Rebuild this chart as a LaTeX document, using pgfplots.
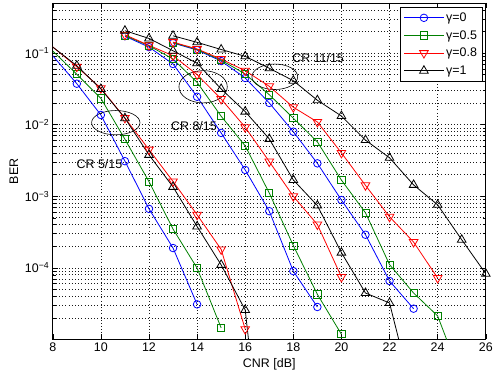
\documentclass[border=0pt]{standalone}
\usepackage{pgfplots}
\pgfplotsset{compat=1.18}
\usepackage{fontspec}
\setmainfont{Liberation Sans}
\definecolor{mgreen}{rgb}{0,0.5,0}
\newcommand\ff{\fontsize{12.5}{15}\selectfont}
\pgfplotsset{
 sb/.style={blue, line width=0.8pt, mark=o, mark size=3.8pt, mark options={solid}},
 sg/.style={mgreen, line width=0.8pt, mark=square, mark size=3.6pt, mark options={solid}},
 sr/.style={red, line width=0.8pt, mark=triangle, mark size=5pt, mark options={solid, rotate=180}},
 sk/.style={black, line width=0.8pt, mark=triangle, mark size=5pt, mark options={solid}},
}
\begin{document}
\begin{tikzpicture}
\path (-53pt,-38pt) rectangle (443pt,341pt);
\begin{axis}[
 at={(0,0)}, anchor=south west, scale only axis,
 width=435pt, height=338pt,
 xmin=8, xmax=26, ymode=log, ymin=1e-5, ymax=0.5,
 xtick={8,10,...,26},
 minor xtick={},
 ytick={1e-4,1e-3,1e-2,1e-1},
 yticklabels={10\textsuperscript{−4},10\textsuperscript{−3},10\textsuperscript{−2},10\textsuperscript{−1}},
 minor ytick={2e-5,3e-5,4e-5,5e-5,6e-5,7e-5,8e-5,9e-5,2e-4,3e-4,4e-4,5e-4,6e-4,7e-4,8e-4,9e-4,2e-3,3e-3,4e-3,5e-3,6e-3,7e-3,8e-3,9e-3,2e-2,3e-2,4e-2,5e-2,6e-2,7e-2,8e-2,9e-2,0.2,0.3,0.4,0.5},
 grid=both,
 major grid style={black!90, line width=0.6pt, dash pattern=on 0.6pt off 2.6pt},
 minor grid style={black!90, line width=0.6pt, dash pattern=on 0.6pt off 2.6pt},
 major tick length=5pt, minor tick length=3pt,
 axis line style={line width=0.7pt},
 tick style={line width=0.5pt, black},
 /pgf/number format/assume math mode=true,
 tick label style={font=\ff},
 label style={font=\ff},
 xlabel={CNR [dB]}, ylabel={BER},
 legend style={at={(1,1)}, anchor=north east, xshift=-3pt, yshift=-4pt, draw=black, fill=white, font=\ff, line width=0.6pt, row sep=3.5pt, inner sep=3.5pt},
 legend cell align=left,
 legend image code/.code={\draw[mark repeat=2,mark phase=2,#1] plot coordinates {(0pt,0pt) (20pt,0pt) (40pt,0pt)};},
]
% CR 5/15
\addplot[sb] coordinates {(7,0.225)(9,0.0373)(10,0.01365)(11,0.00309)(12,6.67e-4)(13,1.89e-4)(14,3.09e-5)};
\addlegendentry{γ=0}
\addplot[sg] coordinates {(7,0.225)(9,0.0505)(10,0.0233)(11,0.00625)(12,0.0016)(13,3.48e-4)(14,9.93e-5)(15,1.45e-5)};
\addlegendentry{γ=0.5}
\addplot[sr] coordinates {(7,0.229)(9,0.0644)(10,0.0322)(11,0.0124)(12,0.00448)(13,0.00161)(14,5.51e-4)(15,1.81e-4)(16,1.39e-5)};
\addlegendentry{γ=0.8}
\addplot[sk] coordinates {(7,0.221)(9,0.0665)(10,0.0315)(11,0.0123)(12,0.00378)(13,0.00135)(14,3.78e-4)(15,1.10e-4)(16,2.58e-5)(17,2.5e-8)};
\addlegendentry{γ=1}
% CR 8/15
\addplot[sb, forget plot] coordinates {(11,0.172)(12,0.121)(13,0.0703)(14,0.0245)(15,0.00766)(16,0.00233)(17,6.19e-4)(18,9.0e-5)(19,2.84e-5)};
\addplot[sg, forget plot] coordinates {(11,0.175)(12,0.1265)(13,0.0824)(14,0.039)(15,0.0131)(16,0.00505)(17,0.00111)(18,2.05e-4)(19,4.26e-5)(20,1.18e-5)};
\addplot[sr, forget plot] coordinates {(11,0.18)(12,0.128)(13,0.0917)(14,0.05)(15,0.0228)(16,0.0092)(17,0.00305)(18,0.001)(19,4.03e-4)(20,7.45e-5)};
\addplot[sk, forget plot] coordinates {(11,0.205)(12,0.16)(13,0.1076)(14,0.072)(15,0.0315)(16,0.0152)(17,0.00632)(18,0.00169)(19,7.41e-4)(20,1.63e-4)(21,4.45e-5)(22,3.23e-5)(23,1.5e-6)};
% CR 11/15
\addplot[sb, forget plot] coordinates {(13,0.138)(14,0.110)(15,0.0773)(16,0.0448)(17,0.0201)(18,0.00798)(19,0.00288)(20,8.85e-4)(21,2.90e-4)(22,6.55e-5)(23,2.69e-5)};
\addplot[sg, forget plot] coordinates {(13,0.14)(14,0.112)(15,0.0798)(16,0.0509)(17,0.0262)(18,0.0123)(19,0.00574)(20,0.00168)(21,5.87e-4)(22,1.11e-4)(23,4.45e-5)(24,2.13e-5)(25,2.8e-6)};
\addplot[sr, forget plot] coordinates {(13,0.142)(14,0.114)(15,0.0824)(16,0.0566)(17,0.0343)(18,0.0175)(19,0.0109)(20,0.00403)(21,0.00142)(22,5.16e-4)(23,2.29e-4)(24,7.21e-5)};
\addplot[sk, forget plot] coordinates {(13,0.174)(14,0.141)(15,0.112)(16,0.090)(17,0.0612)(18,0.0411)(19,0.0219)(20,0.0132)(21,0.00608)(22,0.00344)(23,0.00144)(24,7.59e-4)(25,2.47e-4)(26,8.28e-5)};
% annotations
\draw[line width=0.6pt] (axis cs:10.62,0.01065) ellipse [x radius=24.3pt, y radius=12.2pt];
\draw[line width=0.6pt] (axis cs:14.25,0.0338) ellipse [x radius=24.3pt, y radius=16.2pt];
\draw[line width=0.6pt] (axis cs:17.23,0.0466) ellipse [x radius=23pt, y radius=12.8pt];
\node[font=\ff] at (axis cs:9.94,0.00283) {CR 5/15};
\node[font=\ff] at (axis cs:13.87,0.0097) {CR 8/15};
\node[font=\ff] at (axis cs:19.03,0.0843) {CR 11/15};
\end{axis}
\end{tikzpicture}
\end{document}
